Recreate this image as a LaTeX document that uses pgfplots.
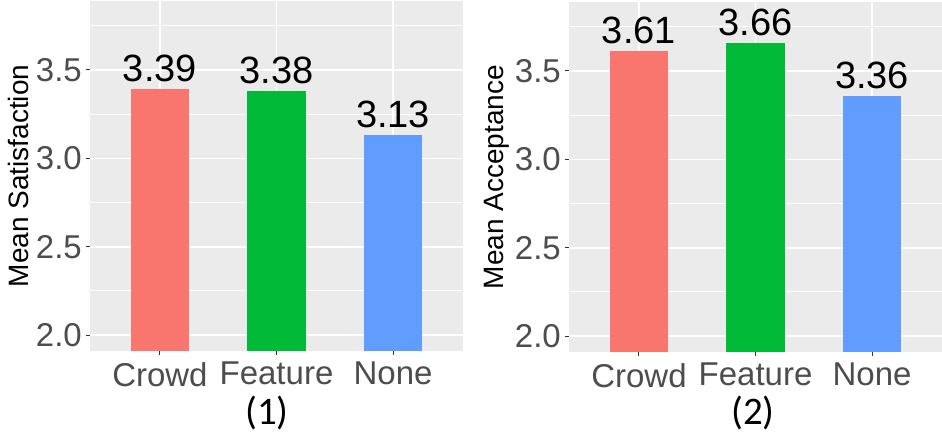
\documentclass[border=0pt]{standalone}
\usepackage{pgfplots}
\pgfplotsset{compat=1.18}
\usepackage{fontspec}
\setmainfont{Liberation Sans}
\newfontfamily\carlito{Carlito}
\definecolor{bggray}{HTML}{EBEBEB}
\definecolor{tickgray}{HTML}{4D4D4D}
\definecolor{tickmark}{HTML}{333333}
\definecolor{cCrowd}{HTML}{F8766D}
\definecolor{cFeature}{HTML}{00BA38}
\definecolor{cNone}{HTML}{619CFF}
\pgfplotsset{
  ggbar/.style={
    scale only axis, width=373pt, height=350pt,
    xmin=0.4, xmax=3.6, ymin=1.91, ymax=3.89,
    xtick={1,2,3}, xticklabels={Crowd,Feature,None},
    ytick={2,2.5,3,3.5}, yticklabels={2.0,2.5,3.0,3.5},
    minor ytick={2.25,2.75,3.25,3.75},
    grid=both,
    major grid style={white, line width=1.6pt},
    minor grid style={white, line width=0.8pt},
    minor tick length=0pt,
    axis background/.style={fill=bggray},
    axis line style={draw=none},
    xtick pos=bottom, ytick pos=left,
    tick align=outside, major tick length=4pt,
    tick style={tickmark, line width=1pt},
    ticklabel style={font=\fontsize{33}{38}\selectfont, text=tickgray},
    xticklabel style={anchor=north, inner sep=0pt, yshift=-7pt},
    yticklabel style={anchor=east, inner sep=0pt, xshift=-4pt},
    ylabel style={font=\fontsize{28}{32}\selectfont, at={(axis description cs:-0.193,0.5)}, anchor=center},
    xlabel style={font=\carlito\fontsize{39}{44}\selectfont, anchor=base},
    nodes near coords,
    point meta=explicit symbolic,
    every node near coord/.append style={font=\fontsize{38}{42}\selectfont, text=black, anchor=south, inner sep=0pt, yshift=7pt},
    bar width=0.5,
  }
}
\begin{document}
\begin{tikzpicture}
\useasboundingbox (0,0) rectangle (942pt,433pt);
\begin{axis}[ggbar, at={(90pt,82pt)}, anchor=south west,
  ylabel={Mean Satisfaction}, xlabel={(1)},
  xlabel style={at={(axis description cs:0.4745,-0.2114)}}]
\addplot[ybar, bar shift=0pt, fill=cCrowd, draw=none] coordinates {(1,3.39) [3.39]};
\addplot[ybar, bar shift=0pt, fill=cFeature, draw=none] coordinates {(2,3.38) [3.38]};
\addplot[ybar, bar shift=0pt, fill=cNone, draw=none] coordinates {(3,3.13) [3.13]};
\end{axis}
\begin{axis}[ggbar, at={(569pt,81pt)}, anchor=south west,
  ylabel={Mean Acceptance}, xlabel={(2)},
  xlabel style={at={(axis description cs:0.4933,-0.2085)}}]
\addplot[ybar, bar shift=0pt, fill=cCrowd, draw=none] coordinates {(1,3.61) [3.61]};
\addplot[ybar, bar shift=0pt, fill=cFeature, draw=none] coordinates {(2,3.66) [3.66]};
\addplot[ybar, bar shift=0pt, fill=cNone, draw=none] coordinates {(3,3.36) [3.36]};
\end{axis}
\end{tikzpicture}
\end{document}
